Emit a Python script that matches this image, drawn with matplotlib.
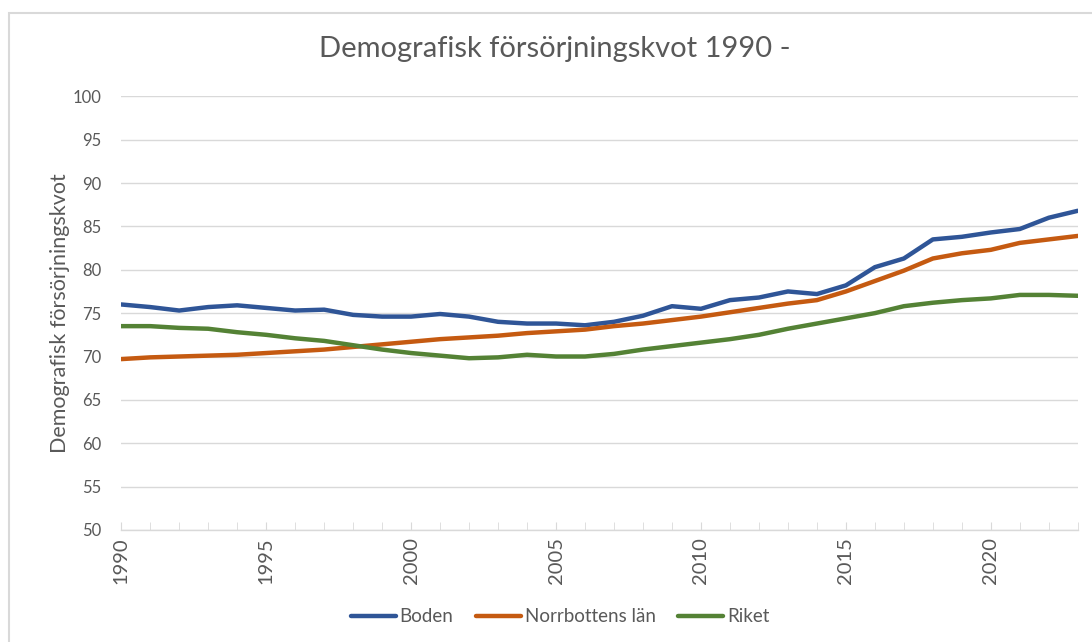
import matplotlib.pyplot as plt
import matplotlib.patches as mpatches

plt.rcParams['font.family'] = ['Lato', 'DejaVu Sans']

# data
years = list(range(1990, 2024))

boden = [76.0, 75.7, 75.3, 75.7, 75.9, 75.6, 75.3, 75.4, 74.8, 74.6,
         74.6, 74.9, 74.6, 74.0, 73.8, 73.8, 73.6, 74.0, 74.7, 75.8,
         75.5, 76.5, 76.8, 77.5, 77.2, 78.2, 80.3, 81.3, 83.5, 83.8,
         84.3, 84.7, 86.0, 86.8]

norrbotten = [69.7, 69.9, 70.0, 70.1, 70.2, 70.4, 70.6, 70.8, 71.1, 71.4,
              71.7, 72.0, 72.2, 72.4, 72.7, 72.9, 73.1, 73.5, 73.8, 74.2,
              74.6, 75.1, 75.6, 76.1, 76.5, 77.5, 78.7, 79.9, 81.3, 81.9,
              82.3, 83.1, 83.5, 83.9]

riket = [73.5, 73.5, 73.3, 73.2, 72.8, 72.5, 72.1, 71.8, 71.3, 70.8,
         70.4, 70.1, 69.8, 69.9, 70.2, 70.0, 70.0, 70.3, 70.8, 71.2,
         71.6, 72.0, 72.5, 73.2, 73.8, 74.4, 75.0, 75.8, 76.2, 76.5,
         76.7, 77.1, 77.1, 77.0]

series_names = ['Boden', 'Norrbottens län', 'Riket']
colors = ['#2F5597', '#C55A11', '#548235']
text_col = '#595959'

fig = plt.figure(figsize=(10.92, 6.42), dpi=100)
ax = fig.add_axes([0.111, 0.1745, 0.876, 0.6755])

# chart area border
fig.patches.append(mpatches.Rectangle((0.008, -0.01), 1.1, 0.99, transform=fig.transFigure,
                                      fill=False, edgecolor='#d9d9d9', linewidth=1.5))

for vals, name, c in zip([boden, norrbotten, riket], series_names, colors):
    ax.plot(years, vals, color=c, linewidth=3.2, label=name,
            solid_joinstyle='round', solid_capstyle='round')

ax.set_xlim(1990, 2023)
ax.set_ylim(50, 100)
ax.set_yticks(range(50, 101, 5))
ax.set_xticks(range(1990, 2021, 5))
ax.set_xticks(years, minor=True)
ax.grid(axis='y', color='#d9d9d9', linewidth=1)
ax.set_axisbelow(True)

for s in ['top', 'right', 'left']:
    ax.spines[s].set_visible(False)
ax.spines['bottom'].set_color('#d9d9d9')
ax.spines['bottom'].set_linewidth(1)

ax.tick_params(axis='y', length=0, pad=14, labelsize=12, labelcolor=text_col)
ax.tick_params(axis='x', which='both', direction='in', length=6, color='#d9d9d9',
               labelsize=14.5, labelcolor=text_col, labelrotation=90, pad=5)

ax.set_ylabel('Demografisk försörjningskvot', fontsize=15.5, color=text_col, labelpad=2)
fig.text(0.508, 0.923, 'Demografisk försörjningskvot 1990 -', ha='center', va='center',
         fontsize=21, color=text_col)

fig.legend(loc='center', bbox_to_anchor=(0.513, 0.039), ncol=3, frameon=False,
           fontsize=13.5, labelcolor=text_col, handlelength=2.4, handletextpad=0.2,
           columnspacing=1.2)

fig.savefig('out.png', dpi=100)
